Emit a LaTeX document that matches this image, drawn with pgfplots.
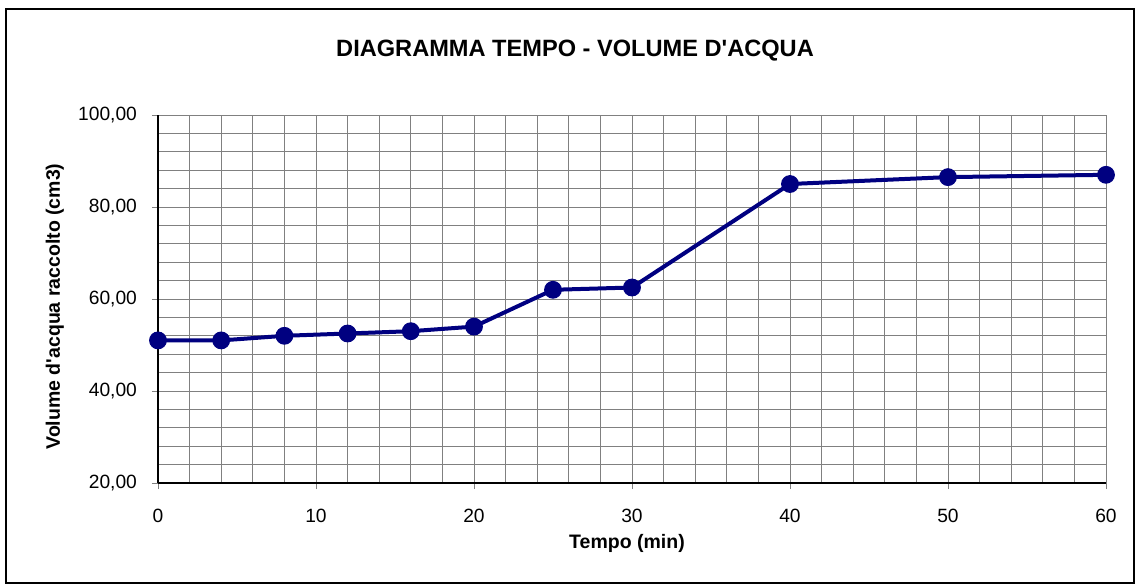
\documentclass[border=0pt]{standalone}
\usepackage{pgfplots}
\pgfplotsset{compat=1.18}
\usepackage{fontspec}
\setmainfont{Liberation Sans}
\definecolor{navy}{RGB}{0,0,128}
\definecolor{gridgray}{RGB}{128,128,128}
\begin{document}
\begin{tikzpicture}
\useasboundingbox (-79pt,-51pt) rectangle (489pt,241.5pt);
\draw[line width=1pt] (-76pt,-50pt) rectangle (488pt,237pt);
\begin{axis}[
  at={(0,0)}, anchor=south west,
  scale only axis, width=474pt, height=184pt,
  xmin=0, xmax=60, ymin=20, ymax=100,
  xtick={0,10,...,60}, ytick={20,40,...,100},
  minor x tick num=4, minor y tick num=4,
  grid=both,
  major grid style={gridgray, line width=0.4pt},
  minor grid style={gridgray, line width=0.4pt},
  axis lines=left,
  axis line style={-, black, line width=0.9pt},
  tick align=outside,
  major tick length=3pt, minor tick length=0pt,
  tick style={gridgray, line width=0.4pt},
  ticklabel style={font=\fontsize{9.6pt}{11pt}\selectfont},
  /pgf/number format/assume math mode=true,
  yticklabel={\pgfmathprintnumber[fixed, fixed zerofill, precision=2, use comma]{\tick}},
  xticklabel={\pgfmathprintnumber[fixed]{\tick}},
  yticklabel style={xshift=-4pt},
  xticklabel style={yshift=-6.5pt},
  title={DIAGRAMMA TEMPO - VOLUME D\textquotesingle ACQUA},
  title style={font=\bfseries\fontsize{11.8pt}{13pt}\selectfont, at={(axis description cs:0.4399,1.1807)}, anchor=center, yshift=-7pt},
  xlabel={Tempo (min)},
  xlabel style={font=\bfseries\fontsize{9.75pt}{11pt}\selectfont, at={(axis description cs:0.4947,-0.1644)}, anchor=center, yshift=0pt},
  ylabel={Volume d\textquotesingle acqua raccolto (cm3)},
  ylabel style={font=\bfseries\fontsize{9.75pt}{11pt}\selectfont, at={(axis description cs:-0.1087,0.4796)}, anchor=center},
  clip=false,
]
\addplot[navy, line width=2pt, mark=*, mark size=4.2pt, mark options={fill=navy, draw=navy, line width=0.5pt}] coordinates {
(0,51) (4,51) (8,52) (12,52.5) (16,53) (20,54) (25,62) (30,62.5) (40,85) (50,86.5) (60,87)
};
\end{axis}
\end{tikzpicture}
\end{document}
